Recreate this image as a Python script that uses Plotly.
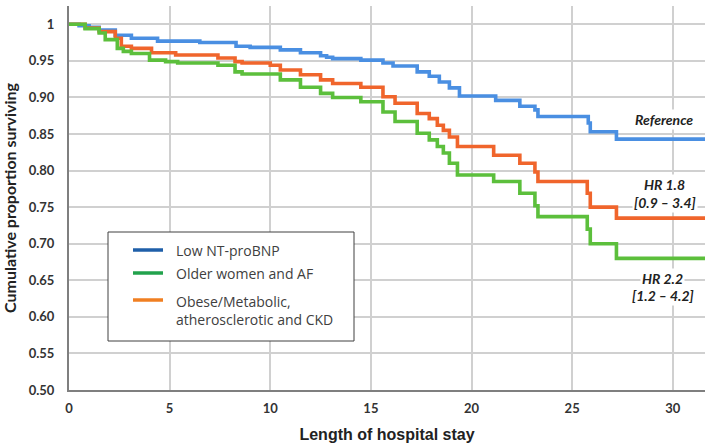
import plotly.graph_objects as go

# ---- data ----
blue_t = [0, 0.5, 1.0, 1.5, 2.3, 3.1, 4.4, 6.5, 8.3, 9.0, 10.5, 11.5, 12.5, 12.8, 13.1, 14.5,
          15.6, 16.1, 17.3, 17.9, 18.4, 18.9, 19.4, 21.2, 22.4, 23.15, 23.3, 25.8, 25.9, 27.2, 31.6]
blue_s = [1.0, 0.998, 0.996, 0.992, 0.985, 0.981, 0.977, 0.975, 0.970, 0.9685, 0.965, 0.961, 0.957,
          0.955, 0.953, 0.951, 0.947, 0.943, 0.935, 0.929, 0.921, 0.913, 0.902, 0.896, 0.888, 0.883,
          0.874, 0.865, 0.853, 0.843, 0.843]

orange_t = [0, 0.8, 1.5, 2.3, 2.6, 3.1, 4.1, 5.3, 7.4, 8.25, 8.6, 10.0, 10.5, 11.5, 12.5, 13.1,
            14.5, 15.6, 16.2, 17.3, 17.9, 18.3, 18.6, 18.9, 19.3, 21.1, 22.4, 23.15, 23.3, 25.75,
            25.9, 27.2, 31.6]
orange_s = [1.0, 0.995, 0.990, 0.981, 0.970, 0.967, 0.961, 0.958, 0.954, 0.949, 0.947, 0.944,
            0.9375, 0.931, 0.924, 0.919, 0.914, 0.901, 0.892, 0.878, 0.871, 0.862, 0.855, 0.846,
            0.833, 0.821, 0.810, 0.798, 0.785, 0.769, 0.750, 0.735, 0.735]

green_t = [0, 0.8, 1.5, 1.8, 2.4, 2.7, 3.1, 4.0, 4.8, 5.4, 7.4, 8.25, 8.6, 10.5, 11.5, 12.5, 13.1,
           14.5, 15.6, 16.2, 17.3, 17.9, 18.3, 18.6, 18.9, 19.3, 21.1, 22.4, 23.15, 23.3, 25.75,
           25.9, 27.2, 31.6]
green_s = [1.0, 0.994, 0.988, 0.979, 0.967, 0.963, 0.960, 0.951, 0.949, 0.947, 0.944, 0.935,
           0.932, 0.924, 0.914, 0.9055, 0.900, 0.894, 0.880, 0.867, 0.851, 0.842, 0.833, 0.824,
           0.810, 0.794, 0.785, 0.769, 0.752, 0.737, 0.720, 0.700, 0.680, 0.680]

legend_names = ["Low NT-proBNP", "Older women and AF",
                "Obese/Metabolic,<br>atherosclerotic and CKD"]
legend_colors = ["#1f5fa9", "#22a24c", "#f07f22"]

y_tickvals = [0.50, 0.55, 0.60, 0.65, 0.70, 0.75, 0.80, 0.85, 0.90, 0.95, 1.0]
y_ticktext = ["0.50", "0.55", "0.60", "0.65", "0.70", "0.75", "0.80", "0.85", "0.90", "0.95", "1"]
x_tickvals = [0, 5, 10, 15, 20, 25, 30]

labels = [
    (29.55, 0.870, "Reference"),
    (29.6, 0.781, "HR 1.8"),
    (29.6, 0.757, "[0.9 – 3.4]"),
    (29.5, 0.653, "HR 2.2"),
    (29.5, 0.629, "[1.2 – 4.2]"),
]

# plot area geometry (pixels) for placing the legend box
L, R, T, B = 69, 705, 6, 390
def px(xp):
    return (xp - L) / (R - L)
def py(yp):
    return (B - yp) / (B - T)

fig = go.Figure()
line_w = 3.6
fig.add_trace(go.Scatter(x=blue_t, y=blue_s, mode="lines", line=dict(color="#4a8fe2", width=line_w, shape="hv"),
                         showlegend=False, name="Low NT-proBNP"))
fig.add_trace(go.Scatter(x=orange_t, y=orange_s, mode="lines", line=dict(color="#f0652c", width=line_w, shape="hv"),
                         showlegend=False, name="Obese/Metabolic, atherosclerotic and CKD"))
fig.add_trace(go.Scatter(x=green_t, y=green_s, mode="lines", line=dict(color="#5cbf3c", width=line_w, shape="hv"),
                         showlegend=False, name="Older women and AF"))

for x, y, t in labels:
    fig.add_annotation(x=x, y=y, text="<b><i>" + t + "</i></b>", showarrow=False,
                       font=dict(family="Lato, Open Sans, sans-serif", size=14, color="#222222"),
                       bgcolor="white", borderpad=1)

# manual legend box
fig.add_shape(type="rect", xref="paper", yref="paper", x0=px(108), x1=px(354), y0=py(341), y1=py(232),
              line=dict(color="#404040", width=1), fillcolor="white", layer="above")
legend_rows = [250, 273, 300]
legend_text_rows = [250, 273, 310]
for name, col, yl, yt in zip(legend_names, legend_colors, legend_rows, legend_text_rows):
    fig.add_shape(type="line", xref="paper", yref="paper", x0=px(133), x1=px(163), y0=py(yl), y1=py(yl),
                  line=dict(color=col, width=3.5), layer="above")
    fig.add_annotation(xref="paper", yref="paper", x=px(174), y=py(yt), xanchor="left", yanchor="middle",
                       text=name, showarrow=False, align="left",
                       font=dict(family="Open Sans, sans-serif", size=14, color="#404040"))

fig.update_layout(
    width=709, height=446,
    margin=dict(l=L, r=709 - R, t=T, b=446 - B),
    plot_bgcolor="white", paper_bgcolor="white",
    showlegend=False,
)
fig.update_xaxes(range=[0, 31.6], tickvals=x_tickvals, showgrid=True, gridcolor="#d0d0d0", gridwidth=1.5,
                 showline=True, linecolor="#7f7f7f", linewidth=2, zeroline=False,
                 tickfont=dict(family="Lato, sans-serif", size=13, color="#333333", weight="bold"),
                 ticklabelstandoff=5,
                 title=dict(text="<b>Length of hospital stay</b>", standoff=14,
                            font=dict(family="Liberation Sans Narrow, Arial Narrow, sans-serif", size=16, color="#222222")))
fig.update_yaxes(range=[0.5, 1.025], tickvals=y_tickvals, ticktext=y_ticktext, showgrid=True,
                 gridcolor="#d0d0d0", gridwidth=1.5,
                 showline=True, linecolor="#7f7f7f", linewidth=2, zeroline=False,
                 tickfont=dict(family="Lato, sans-serif", size=13, color="#333333", weight="bold"),
                 ticklabelstandoff=10,
                 title=dict(text="<b>Cumulative proportion surviving</b>", standoff=10,
                            font=dict(family="Lato, sans-serif", size=16, color="#222222")))

fig.write_html("out.html")
